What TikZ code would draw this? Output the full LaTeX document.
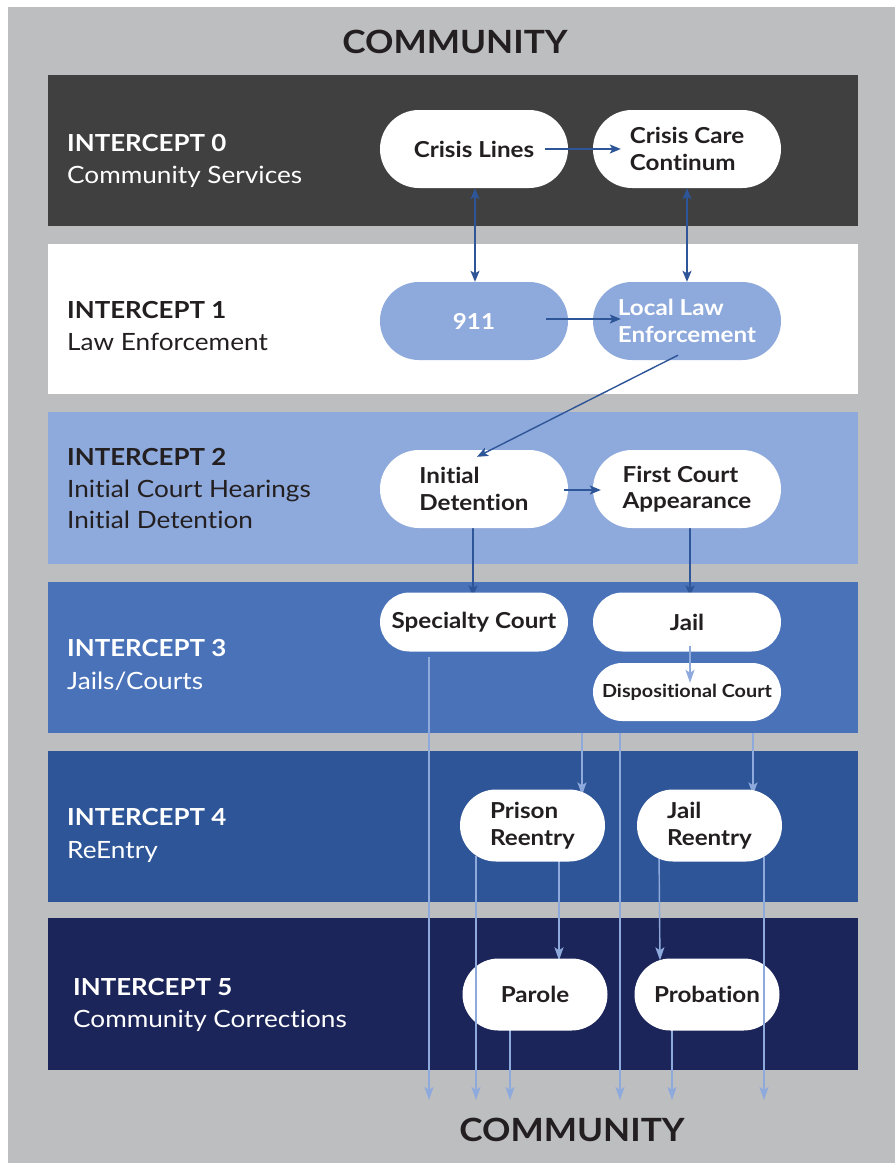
\documentclass[tikz,border=0pt]{standalone}
\usepackage{fontspec}
\setmainfont{Lato}[FakeStretch=1.1, Ligatures={NoCommon}]
\usetikzlibrary{shapes.misc,arrows.meta,calc}
\definecolor{bgray}{HTML}{BCBEC0}
\definecolor{bandA}{HTML}{404040}
\definecolor{bandC}{HTML}{8EA9DB}
\definecolor{bandD}{HTML}{4A72B8}
\definecolor{bandE}{HTML}{2E5597}
\definecolor{bandF}{HTML}{1C2559}
\definecolor{txt}{HTML}{231F20}
\definecolor{darkblue}{HTML}{2E5597}
\definecolor{lightblue}{HTML}{8EAADD}
\pgfdeclarelayer{bands}
\pgfdeclarelayer{behind}
\pgfdeclarelayer{front}
\pgfsetlayers{bands,behind,main,front}
\tikzset{
  pill/.style={rounded rectangle, fill=white, text=txt, inner sep=0pt,
    minimum width=188pt, minimum height=78pt,
    font=\bfseries\fontsize{22}{26.5}\selectfont},
  pillblue/.style={pill, fill=bandC, text=white},
  smallpill/.style={pill, minimum width=145pt, minimum height=72pt},
  title/.style={anchor=base west, inner sep=0pt, font=\bfseries\fontsize{23.5}{28}\selectfont},
  subtitle/.style={anchor=base west, inner sep=0pt, font=\fontsize{23.8}{28}\selectfont},
  community/.style={anchor=base, inner sep=0pt, text=txt, font=\bfseries\fontsize{32}{38}\selectfont},
  darr/.style={draw=darkblue, line width=1.4pt, -{Stealth[length=11pt,width=9pt,inset=2.5pt]}},
  dbl/.style={draw=darkblue, line width=1.4pt, {Stealth[length=11pt,width=9pt,inset=2.5pt]}-{Stealth[length=11pt,width=9pt,inset=2.5pt]}},
  larr/.style={draw=lightblue, line width=1.4pt, -{Stealth[length=13pt,width=9pt,inset=3pt]}}
}
\begin{document}
\begin{tikzpicture}[x=1pt,y=-1pt]
\useasboundingbox (0,0) rectangle (895,1163);
\begin{pgfonlayer}{bands}
\fill[white] (0,0) rectangle (895,1163);
\fill[bgray] (8,7) rectangle (895,1163);
\fill[bandA] (48,75) rectangle (858,226);
\fill[white] (48,244) rectangle (858,394);
\fill[bandC] (48,412) rectangle (858,564);
\fill[bandD] (48,582) rectangle (858,733);
\fill[bandE] (48,751) rectangle (858,902);
\fill[bandF] (48,918) rectangle (858,1070);
\end{pgfonlayer}
% community labels
\node[community] (ctop) at (455,53) {COMMUNITY};
\node[community] (cbot) at (572,1141) {COMMUNITY};
% intercept labels
\node[title, text=white] (t0) at (67,151) {INTERCEPT 0};
\node[subtitle, text=white] (s0) at (67,183) {Community Services};
\node[title, text=txt] (t1) at (67,318) {INTERCEPT 1};
\node[subtitle, text=txt] (s1) at (67,350) {Law Enforcement};
\node[title, text=txt] (t2) at (67,465) {INTERCEPT 2};
\node[subtitle, text=txt] (s2a) at (67,497) {Initial Court Hearings};
\node[subtitle, text=txt] (s2b) at (67,528) {Initial Detention};
\node[title, text=white] (t3) at (67,656) {INTERCEPT 3};
\node[subtitle, text=white] (s3) at (67,689) {Jails/Courts};
\node[title, text=white] (t4) at (67,825) {INTERCEPT 4};
\node[subtitle, text=white] (s4) at (67,858) {ReEntry};
\node[title, text=white] (t5) at (73,995) {INTERCEPT 5};
\node[subtitle, text=white] (s5) at (73,1027) {Community Corrections};
% nodes
\node[pill] (cl) at (474,149) {Crisis Lines};
\node[pill, align=left] (cc) at (687,149) {Crisis Care\\Continum};
\node[pillblue] (n911) at (474,321) {911};
\node[pillblue, align=left] (lle) at (687,321) {Local Law\\Enforcement};
\node[pill, align=left] (id) at (474,489) {Initial\\Detention};
\node[pill, align=left] (fc) at (687,489) {First Court\\Appearance};
\node[pill, minimum height=59pt] (sc) at (474,622) {Specialty Court};
\node[pill, minimum height=59pt] (jail) at (687,622) {Jail};
\node[pill, minimum height=58pt, font=\bfseries\fontsize{18}{21}\selectfont] (dc) at (687,692) {Dispositional Court};
\node[smallpill, align=left] (pr) at (532.5,825.5) {Prison\\Reentry};
\node[smallpill, align=left] (jr) at (709.5,825.5) {Jail\\Reentry};
\node[smallpill] (pa) at (535,994.5) {Parole};
\node[smallpill] (pb) at (707,994.5) {Probation};
% free ends
\coordinate (b1) at (429,657);
\coordinate (b2) at (582,733);
\coordinate (b3) at (620,733);
\coordinate (b4) at (753,733);
\coordinate (e1) at (0,1100);
% dark connectors
\draw[darr] ([xshift=-23pt]cl.east) -- ([xshift=28pt]cc.west);
\draw[dbl] ([xshift=1pt]cl.south) -- ([xshift=1pt]n911.north);
\draw[dbl] (cc.south) -- (lle.north);
\draw[darr] ([xshift=-22pt,yshift=2pt]n911.east) -- ([xshift=28pt,yshift=2pt]lle.west);
\draw[darr] ([xshift=-9pt,yshift=5pt]lle.south) -- ([xshift=3pt,yshift=-7pt]id.north);
\draw[darr] ([xshift=-4pt,yshift=-1pt]id.east) -- ([xshift=8pt,yshift=-1pt]fc.west);
\begin{pgfonlayer}{behind}
\draw[darr] ([xshift=-1pt,yshift=4pt]id.south) -- ([xshift=-1pt,yshift=-4pt]sc.north);
\draw[darr] ([xshift=3pt,yshift=4pt]fc.south) -- ([xshift=3pt,yshift=-4pt]jail.north);
\end{pgfonlayer}
\draw[larr] ([xshift=3pt,yshift=6pt]jail.south) -- ([xshift=3pt,yshift=-20pt]dc.north);
% light connectors
\begin{pgfonlayer}{behind}
\draw[larr] (b1) -- (b1 |- e1);
\draw[larr] (b2) -- ([yshift=-6pt]b2 |- pr.north);
\draw[larr] (b3) -- (b3 |- e1);
\draw[larr] (b4) -- ([yshift=-6pt]b4 |- jr.north);
\draw[larr] ([xshift=26.5pt,yshift=4pt]pr.south) -- ([xshift=24pt,yshift=-2pt]pa.north);
\draw[larr] ([xshift=-50.5pt,yshift=8pt]jr.south) -- ([xshift=-47pt,yshift=-2pt]pb.north);
\draw[larr] ([xshift=-25pt,yshift=4pt]pa.south) -- ([xshift=-25pt]pa.south |- e1);
\draw[larr] ([xshift=-35pt,yshift=4pt]pb.south) -- ([xshift=-35pt]pb.south |- e1);
\end{pgfonlayer}
\begin{pgfonlayer}{front}
\draw[larr] ([xshift=-56.5pt,yshift=6pt]pr.south) -- ([xshift=-56.5pt]pr.south |- e1);
\draw[larr] ([xshift=54.5pt,yshift=5pt]jr.south) -- ([xshift=54.5pt]jr.south |- e1);
\end{pgfonlayer}
\end{tikzpicture}
\end{document}
